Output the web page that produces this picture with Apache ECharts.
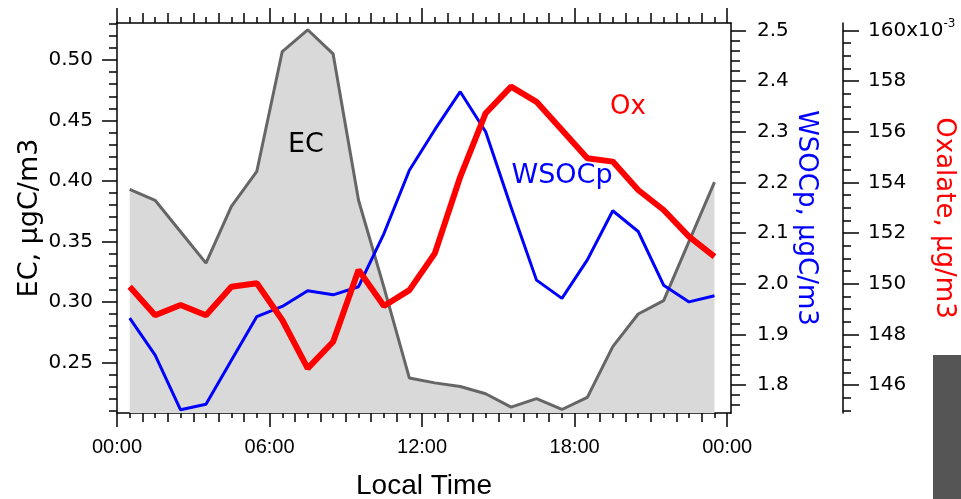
<!DOCTYPE html>
<html>
<head>
<meta charset="utf-8">
<script src="https://cdn.jsdelivr.net/npm/echarts@6/dist/echarts.min.js"></script>
<style>
html, body { margin: 0; padding: 0; background: #fff; }
#main { width: 961px; height: 499px; }
</style>
</head>
<body>
<div id="main"></div>
<script>
// local time (hour), data are hourly means at the half hour
var hours = [0.5, 1.5, 2.5, 3.5, 4.5, 5.5, 6.5, 7.5, 8.5, 9.5, 10.5, 11.5,
	12.5, 13.5, 14.5, 15.5, 16.5, 17.5, 18.5, 19.5, 20.5, 21.5, 22.5, 23.5];
// EC, ugC/m3
var ecValues = [0.393, 0.384, 0.358, 0.332, 0.379, 0.408, 0.507, 0.525, 0.505, 0.384, 0.312, 0.237,
	0.233, 0.230, 0.224, 0.213, 0.220, 0.211, 0.221, 0.263, 0.290, 0.301, 0.350, 0.399];
// WSOCp, ugC/m3
var wsocValues = [1.932, 1.859, 1.751, 1.762, 1.849, 1.935, 1.955, 1.986, 1.978, 1.994, 2.099, 2.224,
	2.304, 2.379, 2.300, 2.151, 2.007, 1.971, 2.047, 2.144, 2.103, 1.997, 1.964, 1.976];
// Oxalate, x10^-3 ug/m3
var oxValues = [149.88, 148.76, 149.16, 148.76, 149.88, 150.02, 148.57, 146.66, 147.71, 150.54, 149.12, 149.75,
	151.20, 154.22, 156.73, 157.78, 157.18, 156.07, 154.95, 154.82, 153.70, 152.91, 151.86, 151.07];

// tick labels
var timeTicks = [0, 6, 12, 18, 24];
var ecTicks = [0.25, 0.30, 0.35, 0.40, 0.45, 0.50];
var wsocTicks = [1.8, 1.9, 2.0, 2.1, 2.2, 2.3, 2.4, 2.5];
var oxTicks = [146, 148, 150, 152, 154, 156, 158, 160];

function steps(from, to, step){
	var arr = [];
	var n = Math.round((to - from) / step);
	for (var i = 0; i <= n; i++) {
		arr.push(Math.round((from + i * step) * 1000) / 1000);
	}
	return arr;
}

function pairs(xs, ys){
	var out = [];
	for (var i = 0; i < xs.length; i++) {
		out.push([xs[i], ys[i]]);
	}
	return out;
}

var FONT = 'DejaVu Sans';
var XMAX = 24.15;
var EC_MIN = 0.2081, EC_MAX = 0.5306;
var WS_MIN = 1.7447, WS_MAX = 2.5146;
var OX_MIN = 144.9, OX_MAX = 160.29;

function tickAxis(pos, values, len, extra){
	// helper axis that only draws tick marks
	var ax = {
		type: 'value',
		position: pos,
		axisLine: { show: false, onZero: false },
		axisTick: { show: true, customValues: values, length: len, lineStyle: { color: '#000', width: 1.5 } },
		axisLabel: { show: false },
		splitLine: { show: false }
	};
	for (var k in extra) { ax[k] = extra[k]; }
	return ax;
}

var chart = echarts.init(document.getElementById('main'));

var xBase = { min: 0, max: XMAX };
var ecBase = { min: EC_MIN, max: EC_MAX, offset: 0 };
var wsBase = { min: WS_MIN, max: WS_MAX, offset: 0 };
var oxBase = { min: OX_MIN, max: OX_MAX, offset: 112 };

var option = {
	animation: false,
	backgroundColor: '#fff',
	grid: { left: 117, right: 230, top: 23, bottom: 86, outerBoundsMode: 'none', containLabel: false },
	xAxis: [{
		type: 'value',
		position: 'bottom',
		min: 0, max: XMAX,
		axisLine: { show: true, onZero: false, lineStyle: { color: '#000', width: 1.5 } },
		axisTick: { show: true, customValues: timeTicks, length: 14, lineStyle: { color: '#000', width: 1.5 } },
		axisLabel: {
			customValues: timeTicks,
			margin: 24,
			fontFamily: 'Liberation Sans', fontSize: 20, color: '#000',
			formatter: function(v){ return ('0' + (v % 24)).slice(-2) + ':00'; }
		},
		splitLine: { show: false },
		name: 'Local Time',
		nameLocation: 'middle',
		nameGap: 59,
		nameMoveOverlap: false,
		nameTextStyle: { fontFamily: 'Liberation Sans', fontSize: 28, color: '#000' }
	},
	tickAxis('bottom', steps(0, 24, 1), 9, xBase),
	tickAxis('bottom', steps(0.5, 23.5, 1), 5, xBase),
	{
		type: 'value',
		position: 'top',
		min: 0, max: XMAX,
		axisLine: { show: true, onZero: false, lineStyle: { color: '#000', width: 1.5 } },
		axisTick: { show: true, customValues: timeTicks, length: 15, lineStyle: { color: '#000', width: 1.5 } },
		axisLabel: { show: false },
		splitLine: { show: false }
	},
	tickAxis('top', steps(0, 24, 1), 10, xBase),
	tickAxis('top', steps(0.5, 23.5, 1), 6, xBase)
	],
	yAxis: [{
		type: 'value',
		position: 'left',
		min: EC_MIN, max: EC_MAX,
		axisLine: { show: true, onZero: false, lineStyle: { color: '#000', width: 1.5 } },
		axisTick: { show: true, customValues: ecTicks, length: 15, lineStyle: { color: '#000', width: 1.5 } },
		axisLabel: {
			customValues: ecTicks, margin: 24,
			fontFamily: FONT, fontSize: 20, color: '#000',
			formatter: function(v){ return v.toFixed(2); }
		},
		splitLine: { show: false },
		name: 'EC, µgC/m3',
		nameLocation: 'middle',
		nameRotate: 90,
		nameGap: 74,
		nameMoveOverlap: false,
		nameTextStyle: { fontFamily: FONT, fontSize: 27, color: '#000' }
	}, {
		type: 'value',
		position: 'right',
		offset: 0,
		min: WS_MIN, max: WS_MAX,
		axisLine: { show: true, onZero: false, lineStyle: { color: '#000', width: 1.5 } },
		axisTick: { show: true, customValues: wsocTicks, length: 15, lineStyle: { color: '#000', width: 1.5 } },
		axisLabel: {
			customValues: wsocTicks, margin: 26,
			fontFamily: FONT, fontSize: 20, color: '#000',
			formatter: function(v){ return v.toFixed(1); }
		},
		splitLine: { show: false },
		name: 'WSOCp, µgC/m3',
		nameLocation: 'middle',
		nameRotate: -90,
		nameGap: 62,
		nameMoveOverlap: false,
		nameTextStyle: { fontFamily: FONT, fontSize: 26, color: '#0000ff' }
	}, {
		type: 'value',
		position: 'right',
		offset: 112,
		min: OX_MIN, max: OX_MAX,
		axisLine: { show: true, onZero: false, lineStyle: { color: '#000', width: 1.5 } },
		axisTick: { show: true, customValues: oxTicks, length: 16, lineStyle: { color: '#000', width: 1.5 } },
		axisLabel: {
			customValues: oxTicks, margin: 25,
			fontFamily: FONT, fontSize: 20, color: '#000',
			formatter: function(v){
				if (v === 160) { return '{a|160x10}{s|-3}'; }
				return String(v);
			},
			rich: {
				a: { fontFamily: FONT, fontSize: 20, color: '#000', lineHeight: 24 },
				s: { fontFamily: FONT, fontSize: 12, color: '#000', verticalAlign: 'top', lineHeight: 24 }
			}
		},
		splitLine: { show: false },
		name: 'Oxalate, µg/m3',
		nameLocation: 'middle',
		nameRotate: -90,
		nameGap: 88,
		nameMoveOverlap: false,
		nameTextStyle: { fontFamily: FONT, fontSize: 26, color: '#ff0000' }
	},
	tickAxis('left', steps(0.21, 0.53, 0.01), 8, ecBase),
	tickAxis('right', steps(1.76, 2.5, 0.02), 9, wsBase),
	tickAxis('right', steps(145, 160, 0.5), 8, oxBase)
	],
	series: [{
		name: 'EC',
		type: 'line',
		xAxisIndex: 0, yAxisIndex: 0,
		data: pairs(hours, ecValues),
		showSymbol: false,
		z: 1,
		lineStyle: { color: '#666666', width: 3 },
		areaStyle: { color: '#d9d9d9', opacity: 1, origin: 'start' }
	}, {
		name: 'WSOCp',
		type: 'line',
		xAxisIndex: 0, yAxisIndex: 1,
		data: pairs(hours, wsocValues),
		showSymbol: false,
		z: 3,
		lineStyle: { color: '#0000ff', width: 3 }
	}, {
		name: 'Ox',
		type: 'line',
		xAxisIndex: 0, yAxisIndex: 2,
		data: pairs(hours, oxValues),
		showSymbol: false,
		z: 4,
		lineStyle: { color: '#ff0000', width: 6 }
	}],
	graphic: [
		{ type: 'text', x: 306, y: 145, z: 10, style: { text: 'EC', fill: '#000', font: '27px "DejaVu Sans"', align: 'center', verticalAlign: 'middle' } },
		{ type: 'text', x: 562, y: 176, z: 10, style: { text: 'WSOCp', fill: '#0000ff', font: '27px "DejaVu Sans"', align: 'center', verticalAlign: 'middle' } },
		{ type: 'text', x: 628, y: 107, z: 10, style: { text: 'Ox', fill: '#ff0000', font: '26px "DejaVu Sans"', align: 'center', verticalAlign: 'middle' } },
		{ type: 'rect', z: 10, shape: { x: 933, y: 355, width: 28, height: 144 }, style: { fill: '#555555' } }
	]
};

chart.setOption(option);
</script>
</body>
</html>
